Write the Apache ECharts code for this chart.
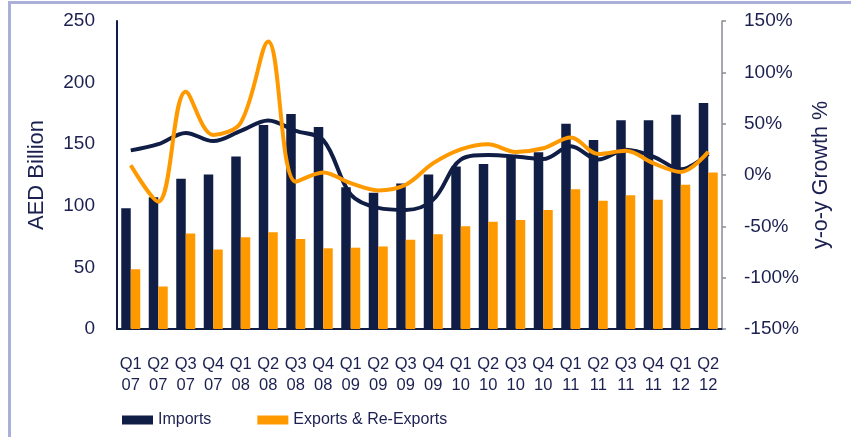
<!DOCTYPE html>
<html><head><meta charset="utf-8">
<script src="https://cdn.jsdelivr.net/npm/echarts@6/dist/echarts.min.js"></script>
<style>
html,body{margin:0;padding:0;background:#fff;overflow:hidden}
#frame{position:absolute;left:8px;top:1px;width:900px;height:500px;border-left:3px solid #aab0d8;border-top:3px solid #aab0d8}
#c{position:absolute;left:0;top:0;width:851px;height:437px}
</style></head>
<body>
<div id="frame"></div>
<div id="c"></div>
<script>
const quarters = ['Q1','Q2','Q3','Q4','Q1','Q2','Q3','Q4','Q1','Q2','Q3','Q4','Q1','Q2','Q3','Q4','Q1','Q2','Q3','Q4','Q1','Q2'];
const years = ['07','07','07','07','08','08','08','08','09','09','09','09','10','10','10','10','11','11','11','11','12','12'];
const imports = [98,107,122,125.5,140,165.5,174.5,164,115,110.5,118,125.5,132,134,140,143.5,166.5,153.5,169.5,169.5,174,183.5];
const exportsRe = [48.5,34.5,77.5,64.5,74.5,78.5,73,65.5,66,67,72.5,77,83.5,87,88.5,96.5,113.5,104,108.5,105,117,127];
const importsGrowth = [24,30,41,33,43,53,43,34,-19,-32,-34,-24,15,19.5,18,15.5,28,15,24.5,18,5.5,20.5];
const exportsGrowth = [9.5,-26,81,39,51,130,-6.5,2.5,-8,-15,-9.5,11.5,25,30,22.5,26,36.5,20.5,23.5,11.5,3,22.5];
const leftTicks = {min:0,max:250,interval:50};
const rightTicks = {min:-150,max:150,interval:50};

const navy = '#101d45', orange = '#ff9900', txt = '#1b2050';
const font = 'Arial, "Liberation Sans", sans-serif';
const chart = echarts.init(document.getElementById('c'), null, {renderer:'canvas'});
chart.setOption({
  animation:false,
  textStyle:{fontFamily:font,color:txt},
  grid:{left:117,right:129,top:21,bottom:108,containLabel:false},
  legend:{
    data:['Imports','Exports & Re-Exports'],
    left:117, top:407, itemWidth:31, itemHeight:9, itemGap:46,
    icon:'rect',
    textStyle:{fontSize:16,color:txt,fontFamily:font}
  },
  xAxis:{
    type:'category',
    data:quarters.map((q,i)=>q+'\n'+years[i]),
    axisLine:{lineStyle:{color:navy,width:2}},
    axisTick:{show:false},
    axisLabel:{fontSize:16.5,lineHeight:21,color:txt,margin:25,interval:0,fontFamily:font}
  },
  yAxis:[{
    type:'value', min:leftTicks.min, max:leftTicks.max, interval:leftTicks.interval,
    name:'AED Billion', nameLocation:'middle', nameRotate:90, nameGap:69,
    nameTextStyle:{fontSize:22,color:txt,fontFamily:font},
    axisLine:{show:true,lineStyle:{color:navy,width:2}},
    axisTick:{show:false},
    splitLine:{show:false},
    axisLabel:{fontSize:19,color:txt,margin:22,fontFamily:font}
  },{
    type:'value', min:rightTicks.min, max:rightTicks.max, interval:rightTicks.interval,
    name:'y-o-y Growth %', nameLocation:'middle', nameRotate:90, nameGap:87,
    nameTextStyle:{fontSize:21.5,color:txt,fontFamily:font},
    axisLine:{show:true,lineStyle:{color:'#8a8c93',width:1.5}},
    axisTick:{show:true,inside:false,length:4,lineStyle:{color:'#8a8c93',width:1.5}},
    splitLine:{show:false},
    axisLabel:{fontSize:19,color:txt,margin:22,formatter:'{value}%',fontFamily:font}
  }],
  series:[
    {name:'Imports',type:'bar',data:imports,barWidth:9.5,barGap:'0%',itemStyle:{color:navy},z:2},
    {name:'Exports & Re-Exports',type:'bar',data:exportsRe,barWidth:9.5,barGap:'0%',itemStyle:{color:orange},z:2},
    {name:'Imports growth',type:'line',yAxisIndex:1,data:importsGrowth,smooth:0.35,symbol:'none',lineStyle:{color:navy,width:4},z:3},
    {name:'Exports growth',type:'line',yAxisIndex:1,data:exportsGrowth,smooth:0.35,symbol:'none',lineStyle:{color:orange,width:4},z:4}
  ]
});
</script>
</body></html>
